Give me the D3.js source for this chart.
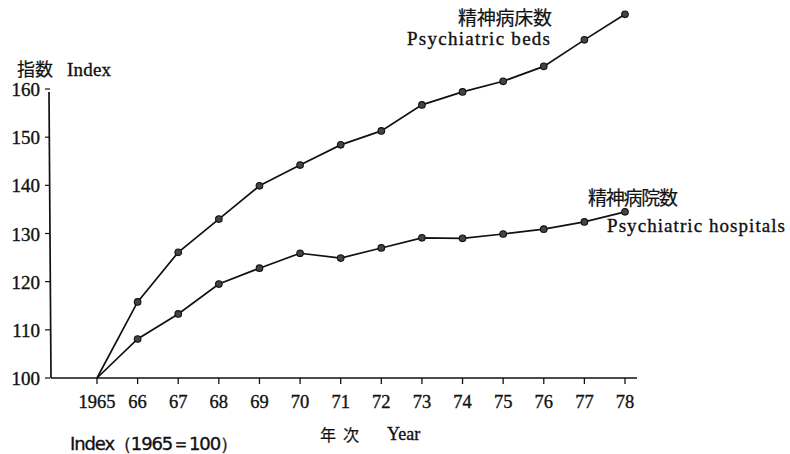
<!DOCTYPE html>
<html>
<head>
<meta charset="utf-8">
<script src="https://cdnjs.cloudflare.com/ajax/libs/d3/7.8.5/d3.min.js"></script>
<style>
body { margin: 0; background: #fff; }
text { fill: #111; stroke: #111; stroke-width: 0.35px; }
.serif { font-family: "Liberation Serif", "DejaVu Serif", serif; }
.cjk { font-family: "Noto Sans CJK JP", sans-serif; stroke-width: 0.2px; }
</style>
</head>
<body>
<div id="content"></div>
<script>
// data
var years = [1965,1966,1967,1968,1969,1970,1971,1972,1973,1974,1975,1976,1977,1978];
var yearLabels = ['1965','66','67','68','69','70','71','72','73','74','75','76','77','78'];
var bedsIndex = [100,115.8,126.1,133.0,139.9,144.2,148.4,151.3,156.7,159.4,161.6,164.7,170.2,175.5];
var hospitalsIndex = [100,108.1,113.3,119.5,122.8,125.9,124.9,127.0,129.1,129.0,129.9,130.9,132.4,134.5];
var yTicks = [100,110,120,130,140,150,160];

var W = 790, H = 454;
var svg = d3.select("#content").append("svg")
    .attr("width", W).attr("height", H);

var x = d3.scaleLinear().domain([1965,1978]).range([97,625]);
var y = d3.scaleLinear().domain([100,160]).range([378,89]);

// y axis
svg.append("line").attr("x1",49).attr("y1",92).attr("x2",51).attr("y2",378)
    .attr("stroke","#111").attr("stroke-width",1.7);
svg.selectAll(".ytick").data(yTicks).enter().append("line")
    .attr("x1",45).attr("x2",50)
    .attr("y1",function(d){return y(d);}).attr("y2",function(d){return y(d);})
    .attr("stroke","#111").attr("stroke-width",1.2);
svg.selectAll(".ylab").data(yTicks).enter().append("text")
    .attr("class","serif")
    .attr("x",40).attr("y",function(d){return y(d)+7;})
    .attr("text-anchor","end").attr("font-size",19)
    .text(function(d){return d;});

// x axis
svg.append("line").attr("x1",51).attr("y1",378).attr("x2",637).attr("y2",378)
    .attr("stroke","#111").attr("stroke-width",1.7);
svg.selectAll(".xtick").data(years).enter().append("line")
    .attr("x1",function(d){return x(d);}).attr("x2",function(d){return x(d);})
    .attr("y1",378).attr("y2",384)
    .attr("stroke","#111").attr("stroke-width",1.3);
svg.selectAll(".xlab").data(years).enter().append("text")
    .attr("class","serif")
    .attr("x",function(d){return x(d);}).attr("y",408)
    .attr("text-anchor","middle").attr("font-size",18.5)
    .text(function(d,i){return yearLabels[i];});

// lines
var line = d3.line().x(function(d,i){return x(years[i]);}).y(function(d){return y(d);});
[bedsIndex, hospitalsIndex].forEach(function(s){
    svg.append("path").attr("d",line(s)).attr("fill","none")
        .attr("stroke","#111").attr("stroke-width",1.7);
    svg.selectAll(null).data(s.slice(1)).enter().append("circle")
        .attr("cx",function(d,i){return x(years[i+1]);})
        .attr("cy",function(d){return y(d);})
        .attr("r",3.3).attr("fill","#444").attr("stroke","#111").attr("stroke-width",1.1);
});

// titles and labels
svg.append("text").attr("class","cjk").attr("x",17).attr("y",76).attr("font-size",18).text("指数");
svg.append("text").attr("class","serif").attr("x",67).attr("y",76).attr("font-size",19)
    .attr("textLength",44).text("Index");

svg.append("text").attr("class","cjk").attr("x",458).attr("y",25).attr("font-size",19)
    .attr("textLength",94).text("精神病床数");
svg.append("text").attr("class","serif").attr("x",407).attr("y",45).attr("font-size",19)
    .attr("textLength",143).text("Psychiatric beds");

svg.append("text").attr("class","cjk").attr("x",588).attr("y",205).attr("font-size",19)
    .attr("textLength",90).text("精神病院数");
svg.append("text").attr("class","serif").attr("x",607).attr("y",232).attr("font-size",19)
    .attr("textLength",178).text("Psychiatric hospitals");

svg.append("text").attr("class","cjk").attr("x",320).attr("y",441).attr("font-size",16).text("年");
svg.append("text").attr("class","cjk").attr("x",343).attr("y",441).attr("font-size",16).text("次");
svg.append("text").attr("class","serif").attr("x",387).attr("y",440).attr("font-size",18).text("Year");

svg.append("text").attr("x",70).attr("y",450).attr("font-size",18)
    .attr("font-family","'DejaVu Sans', sans-serif").attr("textLength",168)
    .text("Index（1965＝100）");
</script>
</body>
</html>
